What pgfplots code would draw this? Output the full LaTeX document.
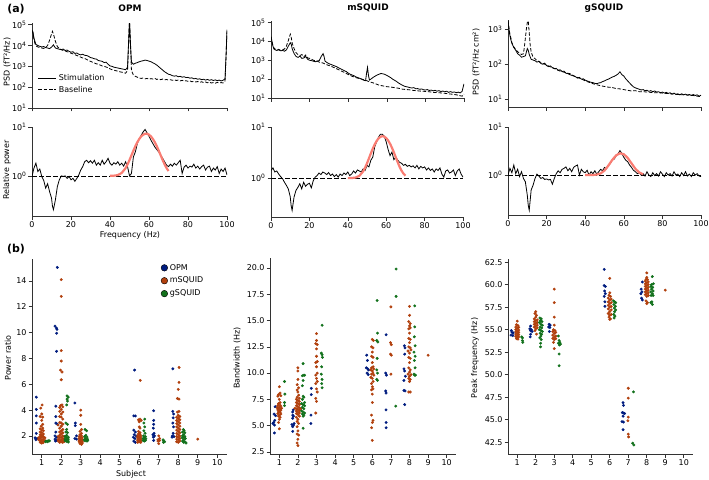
\documentclass[border=0pt]{standalone}
\usepackage{pgfplots}
\pgfplotsset{compat=1.18}
\usepackage{fontspec}
\setmainfont{DejaVu Sans}

\definecolor{cB}{HTML}{001C7F}
\definecolor{cO}{HTML}{B1400D}
\definecolor{cG}{HTML}{12711C}
\definecolor{fitred}{RGB}{250,125,115}

\newcommand{\tk}{\fontsize{8}{9.6}\selectfont}
\newcommand{\dec}[1]{10\textsuperscript{#1}}

% spectra are stored as log10 values, axes labelled in decades
\pgfplotsset{
  panel/.style={scale only axis, anchor=north west, axis lines*=left,
    axis line style={-, line width=0.6bp, black!80},
    tick align=outside, major tick length=3.5bp,
    tick style={black!80, line width=0.6bp},
    tick label style={font=\tk, inner sep=1.8bp}, minor tick num=0, scaled ticks=false,
    /pgf/number format/assume math mode=true},
  freq/.style={panel, xmin=0, xmax=100, xtick={0,20,...,100}},
  nox/.style={xticklabels={,,,,,}},
  rel/.style={freq, ymax=1, ytick={0,1}, yticklabels={\dec{0},\dec{1}}},
  swarm/.style={panel, xmin=0.5, xmax=10.5, xtick={1,...,10}, clip=false},
  stim/.style={black, line width=0.8bp},
  base/.style={black, line width=0.8bp, dash pattern=on 3.5bp off 1.8bp},
  one/.style={black, line width=0.8bp, dash pattern=on 4.5bp off 2.5bp},
  fit/.style={fitred, line width=2.2bp},
  dots/.style={only marks, mark=*, mark size=1.25bp, forget plot},
}

\begin{document}
\begin{tikzpicture}
\path[use as bounding box] (0,0) rectangle (709bp,-480bp);

% ---------------- (a) top row: PSD ----------------
\begin{axis}[freq, nox, at={(32bp,-23bp)}, width=195bp, height=85bp,
  ymin=1, ymax=5.08, ytick={1,...,5},
  yticklabels={\dec{1},\dec{2},\dec{3},\dec{4},\dec{5}},
  legend style={at={(0.03,0.42)}, anchor=north west, draw=none, fill=none,
    font=\tk, row sep=0bp, inner sep=0pt},
  legend cell align=left,
  legend image code/.code={\draw[#1] (0bp,0bp) -- (18bp,0bp);}]
\addplot[stim] coordinates {(0,4.73)(0.5,4.65)(1,4.35)(1.5,4.2)(2,4.05)(3,4.0)(4,3.96)(5,3.93)(6,3.95)(7,3.9)(8,3.88)(9,3.85)(10,3.92)(11,4.03)(12,3.88)(13,3.85)(14,3.82)(15,3.8)(16,3.83)(17,3.76)(18,3.78)(19,3.72)(20,3.68)(21,3.7)(22,3.62)(23,3.64)(24,3.58)(25,3.55)(26,3.58)(27,3.53)(28,3.52)(29,3.48)(30,3.42)(31,3.4)(32,3.36)(33,3.35)(34,3.28)(35,3.26)(36,3.24)(37,3.18)(38,3.2)(39,3.1)(40,3.02)(41,3.0)(42,2.96)(43,2.94)(44,2.92)(45,2.9)(46,2.88)(47,2.86)(48,2.84)(49,2.95)(49.5,4.1)(50,5.24)(50.5,4.1)(51,3.2)(52,3.1)(53,3.15)(54,3.18)(55,3.22)(56,3.25)(57,3.27)(58,3.3)(59,3.28)(60,3.25)(61,3.22)(62,3.17)(63,3.12)(64,3.06)(65,2.98)(66,2.9)(67,2.82)(68,2.74)(69,2.68)(70,2.62)(71,2.6)(72,2.55)(73,2.53)(74,2.55)(75,2.5)(76,2.52)(77,2.48)(78,2.5)(79,2.46)(80,2.47)(81,2.43)(82,2.45)(83,2.4)(84,2.42)(85,2.38)(86,2.4)(87,2.36)(88,2.38)(89,2.34)(90,2.37)(91,2.33)(92,2.36)(93,2.32)(94,2.35)(95,2.31)(96,2.34)(97,2.3)(98,2.33)(99,2.4)(99.5,3.5)(100,4.76)};
\addlegendentry{Stimulation}
\addplot[base] coordinates {(0,4.7)(0.5,4.6)(1,4.3)(1.5,4.1)(2,3.98)(3,3.93)(4,3.9)(5,3.88)(6,3.86)(7,3.9)(8,4.0)(9,4.25)(10,4.55)(10.5,4.68)(11,4.55)(12,4.2)(13,3.95)(14,3.85)(15,3.8)(16,3.76)(17,3.74)(18,3.7)(19,3.68)(20,3.63)(21,3.6)(22,3.56)(23,3.52)(24,3.48)(25,3.44)(26,3.4)(27,3.38)(28,3.33)(29,3.28)(30,3.24)(31,3.2)(32,3.16)(33,3.12)(34,3.1)(35,3.06)(36,3.02)(37,3.0)(38,2.97)(39,2.93)(40,2.88)(41,2.84)(42,2.82)(43,2.79)(44,2.77)(45,2.74)(46,2.72)(47,2.7)(48,2.67)(49,2.8)(49.5,4.0)(50,5.2)(50.5,4.0)(51,2.8)(52,2.58)(53,2.52)(54,2.48)(55,2.44)(56,2.42)(57,2.44)(58,2.4)(59,2.42)(60,2.38)(61,2.41)(62,2.39)(63,2.42)(64,2.37)(65,2.4)(66,2.36)(67,2.39)(68,2.35)(69,2.37)(70,2.34)(71,2.36)(72,2.33)(73,2.35)(74,2.32)(75,2.34)(76,2.3)(77,2.33)(78,2.29)(79,2.31)(80,2.28)(81,2.3)(82,2.26)(83,2.28)(84,2.25)(85,2.27)(86,2.23)(87,2.26)(88,2.22)(89,2.25)(90,2.21)(91,2.24)(92,2.2)(93,2.22)(94,2.19)(95,2.23)(96,2.2)(97,2.22)(98,2.2)(99,2.3)(99.5,3.4)(100,4.7)};
\addlegendentry{Baseline}
\end{axis}

\begin{axis}[freq, nox, at={(271bp,-21bp)}, width=193bp, height=77bp,
  ymin=1, ymax=5.08, ytick={1,...,5},
  yticklabels={\dec{1},\dec{2},\dec{3},\dec{4},\dec{5}}]
\addplot[stim] coordinates {(0,4.25)(0.5,4.0)(1,3.75)(1.5,3.6)(2,3.56)(3,3.52)(4,3.55)(5,3.5)(6,3.52)(7,3.48)(8,3.55)(9,3.75)(10,3.93)(10.5,3.85)(11,3.6)(12,3.35)(13,3.2)(14,3.15)(15,3.22)(16,3.1)(17,3.12)(18,3.2)(19,3.05)(20,3.0)(21,2.98)(22,2.95)(23,2.92)(24,2.96)(25,2.98)(26,3.2)(27,3.35)(27.5,3.2)(28,2.95)(29,2.88)(30,2.82)(31,2.78)(32,2.74)(33,2.7)(34,2.66)(35,2.6)(36,2.55)(37,2.5)(38,2.45)(39,2.4)(40,2.32)(41,2.26)(42,2.22)(43,2.18)(44,2.12)(45,2.08)(46,2.04)(47,2.0)(48,1.94)(49,1.92)(49.5,2.3)(50,2.62)(50.5,2.2)(51,1.95)(52,2.02)(53,2.1)(54,2.16)(55,2.22)(56,2.26)(57,2.3)(58,2.28)(59,2.25)(60,2.2)(61,2.14)(62,2.08)(63,2.0)(64,1.94)(65,1.88)(66,1.8)(67,1.74)(68,1.68)(69,1.63)(70,1.6)(71,1.58)(72,1.55)(73,1.53)(74,1.55)(75,1.49)(76,1.5)(77,1.46)(78,1.48)(79,1.44)(80,1.42)(81,1.45)(82,1.4)(83,1.42)(84,1.38)(85,1.41)(86,1.36)(87,1.39)(88,1.34)(89,1.37)(90,1.33)(91,1.36)(92,1.3)(93,1.34)(94,1.3)(95,1.32)(96,1.28)(97,1.31)(98,1.27)(99,1.35)(100,1.75)};
\addplot[base] coordinates {(0,4.25)(0.5,4.0)(1,3.75)(1.5,3.66)(2,3.6)(3,3.55)(4,3.58)(5,3.52)(6,3.55)(7,3.6)(8,3.75)(9,4.05)(10,4.38)(10.5,4.2)(11,3.9)(12,3.6)(13,3.4)(14,3.3)(15,3.25)(16,3.3)(17,3.18)(18,3.28)(19,3.12)(20,3.1)(21,3.05)(22,3.0)(23,2.97)(24,2.95)(25,2.9)(26,2.88)(27,2.85)(28,2.8)(29,2.76)(30,2.72)(31,2.69)(32,2.64)(33,2.6)(34,2.55)(35,2.5)(36,2.45)(37,2.4)(38,2.36)(39,2.3)(40,2.25)(41,2.2)(42,2.15)(43,2.12)(44,2.08)(45,2.05)(46,2.03)(47,2.0)(48,1.97)(49,1.94)(50,1.9)(51,1.86)(52,1.83)(53,1.8)(54,1.76)(55,1.72)(56,1.68)(57,1.66)(58,1.64)(59,1.62)(60,1.6)(62,1.58)(64,1.55)(66,1.52)(68,1.47)(70,1.45)(72,1.43)(74,1.4)(76,1.38)(78,1.36)(80,1.35)(82,1.33)(84,1.3)(86,1.29)(88,1.27)(90,1.25)(92,1.22)(94,1.2)(96,1.17)(98,1.12)(99,1.1)(100,1.2)};
\end{axis}

\begin{axis}[freq, nox, at={(508bp,-20bp)}, width=193bp, height=87bp,
  ymin=0.77, ymax=3.27, ytick={1,2,3},
  yticklabels={\dec{1},\dec{2},\dec{3}}]
\addplot[stim] coordinates {(0,3.22)(0.5,3.0)(1,2.82)(1.5,2.7)(2,2.6)(3,2.48)(4,2.4)(5,2.3)(6,2.26)(7,2.2)(8,2.22)(9,2.24)(10,2.45)(10.5,2.4)(11,2.28)(12,2.14)(13,2.12)(14,2.1)(15,2.06)(16,2.08)(17,2.02)(18,2.0)(19,2.03)(20,1.96)(21,1.93)(22,1.95)(23,1.9)(24,1.87)(25,1.88)(26,1.82)(27,1.84)(28,1.79)(29,1.8)(30,1.74)(31,1.73)(32,1.7)(33,1.68)(34,1.66)(35,1.64)(36,1.6)(37,1.62)(38,1.57)(39,1.58)(40,1.54)(41,1.52)(42,1.5)(43,1.48)(44,1.47)(45,1.45)(46,1.44)(47,1.46)(48,1.47)(49,1.5)(50,1.52)(51,1.55)(52,1.57)(53,1.6)(54,1.63)(55,1.65)(56,1.68)(57,1.72)(58,1.78)(59,1.7)(60,1.66)(61,1.58)(62,1.52)(63,1.46)(64,1.4)(65,1.35)(66,1.32)(67,1.3)(68,1.28)(69,1.26)(70,1.27)(71,1.24)(72,1.25)(73,1.22)(74,1.24)(75,1.21)(76,1.23)(77,1.2)(78,1.21)(79,1.18)(80,1.2)(81,1.17)(82,1.19)(83,1.16)(84,1.18)(85,1.14)(86,1.17)(87,1.13)(88,1.15)(89,1.12)(90,1.15)(91,1.12)(92,1.14)(93,1.11)(94,1.13)(95,1.1)(96,1.13)(97,1.1)(98,1.12)(99,1.08)(100,1.11)};
\addplot[base] coordinates {(0,3.26)(0.5,3.05)(1,2.85)(1.5,2.75)(2,2.62)(3,2.5)(4,2.42)(5,2.36)(6,2.31)(7,2.28)(8,2.3)(8.5,2.5)(9,2.75)(9.5,3.0)(10,3.2)(10.5,3.24)(11,2.9)(11.5,2.55)(12,2.35)(13,2.2)(14,2.16)(15,2.1)(16,2.08)(17,2.05)(18,2.02)(19,2.0)(20,1.97)(21,1.95)(22,1.92)(23,1.9)(24,1.88)(25,1.85)(26,1.83)(27,1.8)(28,1.79)(29,1.77)(30,1.76)(31,1.74)(32,1.73)(33,1.7)(34,1.67)(35,1.64)(36,1.62)(37,1.6)(38,1.58)(39,1.55)(40,1.52)(42,1.48)(44,1.44)(46,1.41)(48,1.38)(50,1.36)(52,1.34)(54,1.33)(56,1.3)(58,1.29)(60,1.27)(62,1.25)(64,1.23)(66,1.24)(68,1.21)(70,1.21)(72,1.2)(74,1.19)(76,1.18)(78,1.18)(80,1.17)(82,1.16)(84,1.15)(86,1.14)(88,1.13)(90,1.12)(92,1.12)(94,1.11)(96,1.1)(98,1.08)(100,1.07)};
\end{axis}

% ---------------- (a) middle row: relative power ----------------
\begin{axis}[rel, at={(32bp,-127bp)}, width=195bp, height=89bp, ymin=-0.82]
\addplot[stim] coordinates {(0,-0.01)(1,0.16)(2,0.26)(3,0.09)(4,0.14)(5,-0.01)(6,-0.09)(7,-0.25)(8,-0.16)(9,-0.32)(10,-0.45)(10.5,-0.62)(11,-0.69)(11.5,-0.59)(12,-0.49)(13,-0.22)(14,-0.08)(15,0)(16,-0.01)(17,0)(18,-0.05)(19,-0.01)(20,-0.08)(21,-0.05)(22,-0.11)(23,-0.05)(24,0.02)(25,0.12)(26,0.19)(27,0.29)(28,0.32)(29,0.27)(30,0.31)(31,0.26)(32,0.32)(33,0.22)(34,0.27)(35,0.22)(36,0.32)(37,0.24)(38,0.29)(39,0.36)(40,0.26)(41,0.22)(42,0.27)(43,0.24)(44,0.29)(45,0.22)(46,0.26)(47,0.2)(48,0.29)(49,0.19)(50,0)(51,0.05)(52,0.39)(53,0.49)(54,0.66)(55,0.76)(56,0.83)(57,0.9)(58,0.95)(59,0.88)(60,0.81)(61,0.73)(62,0.66)(63,0.59)(64,0.54)(65,0.49)(66,0.43)(67,0.36)(68,0.29)(69,0.22)(70,0.19)(71,0.24)(72,0.2)(73,0.26)(74,0.22)(75,0.27)(76,0.32)(77,0.05)(78,0.18)(79,0.22)(80,0.16)(81,0.2)(82,0.18)(83,0.24)(84,0.16)(85,0.2)(86,0.14)(87,0.19)(88,0.22)(89,0.12)(90,0.18)(91,0.2)(92,0.09)(93,0.16)(94,0.12)(95,0.19)(96,0.05)(97,0.14)(98,0.09)(99,0.16)(100,0.02)};
\addplot[one] coordinates {(0,0)(100,0)};
\addplot[fit] coordinates {(40,0.001)(42,0.004)(44,0.017)(46,0.06)(48,0.16)(49,0.236)(50,0.324)(51,0.42)(52,0.516)(53,0.607)(54,0.688)(55,0.755)(56,0.808)(57,0.843)(58,0.861)(59,0.861)(60,0.843)(61,0.808)(62,0.755)(63,0.688)(64,0.607)(65,0.516)(66,0.42)(67,0.324)(68,0.236)(69,0.16)(70,0.1)};
\end{axis}

\begin{axis}[rel, at={(271bp,-127bp)}, width=192bp, height=90bp, ymin=-0.76]
\addplot[stim] coordinates {(0,0.15)(1,0.2)(2,0.12)(3,0.14)(4,0.08)(5,0.03)(6,-0.01)(7,-0.08)(8,-0.14)(9,-0.21)(10,-0.36)(10.5,-0.54)(11,-0.63)(11.5,-0.5)(12,-0.37)(13,-0.24)(14,-0.18)(15,-0.11)(16,-0.21)(17,-0.08)(18,-0.16)(19,-0.12)(20,-0.1)(21,-0.19)(22,-0.05)(23,0.02)(24,0.05)(25,0.1)(26,0.07)(27,0.12)(28,0.1)(29,0.07)(30,0.11)(31,0.05)(32,0.08)(33,0.03)(34,0.07)(35,0.02)(36,0.08)(37,0.05)(38,0.1)(39,0.07)(40,0.12)(41,0.05)(42,0.08)(43,0.14)(44,0.1)(45,0.16)(46,0.14)(47,0.12)(48,0.18)(49,0.15)(50,0.25)(51,0.22)(52,0.35)(53,0.41)(54,0.61)(55,0.71)(56,0.8)(57,0.86)(58,0.86)(59,0.82)(60,0.71)(61,0.56)(62,0.44)(63,0.51)(64,0.36)(65,0.41)(66,0.35)(67,0.31)(68,0.29)(69,0.25)(70,0.27)(71,0.23)(72,0.25)(73,0.22)(74,0.24)(75,0.2)(76,0.25)(77,0.18)(78,0.23)(79,0.2)(80,0.22)(81,0.16)(82,0.2)(83,0.15)(84,0.18)(85,0.12)(86,0.18)(87,0.15)(88,0.2)(89,0.08)(90,0.02)(91,0.14)(92,0.16)(93,0.1)(94,0.12)(95,0.16)(96,0.05)(97,0.14)(98,0.18)(99,0.08)(100,0.02)};
\addplot[one] coordinates {(0,0)(100,0)};
\addplot[fit] coordinates {(40,0)(42,0.002)(44,0.011)(46,0.044)(48,0.132)(49,0.204)(50,0.29)(51,0.386)(52,0.484)(53,0.576)(54,0.659)(55,0.726)(56,0.776)(57,0.808)(58,0.82)(59,0.812)(60,0.784)(61,0.737)(62,0.673)(63,0.594)(64,0.504)(65,0.406)(66,0.31)(67,0.22)(68,0.146)(69,0.088)(70,0.049)};
\end{axis}

\begin{axis}[rel, at={(508bp,-127bp)}, width=193bp, height=88bp, ymin=-0.83]
\addplot[stim] coordinates {(0,0)(1,0.14)(2,0.05)(3,0.21)(4,0.03)(5,0.12)(6,-0.03)(7,0.07)(8,-0.07)(9,-0.14)(10,-0.42)(10.5,-0.63)(11,-0.73)(11.5,-0.52)(12,-0.31)(13,-0.21)(14,-0.07)(15,0.02)(16,-0.02)(17,-0.07)(18,-0.05)(19,-0.09)(20,-0.08)(21,-0.1)(22,-0.09)(23,-0.19)(24,-0.07)(25,0.03)(26,0.09)(27,0.05)(28,0.12)(29,0.14)(30,0.17)(31,0.09)(32,0.14)(33,0.07)(34,0.16)(35,0.19)(36,0.21)(37,0)(38,0.12)(39,0.07)(40,0.05)(41,0.1)(42,0)(43,0.07)(44,0.03)(45,0.09)(46,0.02)(47,0.07)(48,0.12)(49,0.09)(50,0.16)(51,0.13)(52,0.21)(53,0.24)(54,0.31)(55,0.33)(56,0.4)(57,0.44)(58,0.51)(59,0.45)(60,0.37)(61,0.31)(62,0.28)(63,0.21)(64,0.16)(65,0.1)(66,0.07)(67,0.03)(68,0.05)(69,0)(70,0.03)(71,-0.02)(72,0.07)(73,0)(74,-0.03)(75,0.05)(76,-0.01)(77,0.03)(78,-0.02)(79,0.07)(80,0.02)(81,-0.03)(82,0.05)(83,0)(84,0.03)(85,-0.02)(86,0.07)(87,0)(88,0.02)(89,-0.03)(90,0.05)(91,-0.01)(92,0.07)(93,-0.02)(94,0.02)(95,-0.03)(96,0.05)(97,0)(98,0.03)(99,-0.02)(100,-0.03)};
\addplot[one] coordinates {(0,0)(100,0)};
\addplot[fit] coordinates {(40,0)(42,0.0004)(44,0.002)(46,0.01)(48,0.035)(50,0.0955)(52,0.197)(54,0.315)(56,0.41)(58,0.453)(60,0.435)(62,0.358)(64,0.244)(66,0.132)(68,0.054)(70,0.017)};
\end{axis}

% ---------------- (b) swarm plots ----------------
\begin{axis}[swarm, at={(32bp,-259bp)}, width=195bp, height=195bp,
  ymin=0.6, ymax=15.7, ytick={2,4,...,14},
  legend style={at={(0.66,0.985)}, anchor=north west, draw=none, fill=none,
    font=\tk, row sep=1.5bp, inner sep=0pt},
  legend cell align=left,
  legend image code/.code={\fill[#1] (5bp,0bp) circle (3.3bp);}]
\addlegendimage{fill=cB}\addlegendentry{OPM}
\addlegendimage{fill=cO}\addlegendentry{mSQUID}
\addlegendimage{fill=cG}\addlegendentry{gSQUID}
\addplot[dots, cB] coordinates {(0.72,5.0)(0.72,4.05)(0.72,3.55)(0.72,3.0)(0.72,2.2)(0.66,1.85)(0.76,1.8)(0.70,1.7)
(1.80,15.05)(1.68,10.5)(1.75,10.35)(1.78,10.25)(1.76,9.95)(1.76,8.55)(1.72,4.3)(1.72,3.5)(1.72,3.0)(1.80,2.9)(1.72,2.3)(1.68,2.0)(1.76,1.9)(1.68,1.75)(1.76,1.65)(1.70,1.6)
(2.70,4.55)(2.72,3.0)(2.72,2.8)(2.78,2.0)(2.70,1.8)(2.78,1.75)
(5.76,7.1)(5.72,3.55)(5.80,3.55)(5.72,2.45)(5.80,2.3)(5.74,2.1)(5.84,2.0)(5.70,1.9)(5.78,1.8)(5.72,1.6)(5.80,1.5)
(6.74,3.95)(6.74,3.2)(6.74,2.9)(6.72,2.6)(6.76,2.2)(6.70,2.1)(6.78,2.0)(6.72,1.9)(6.74,1.65)
(7.72,7.2)(7.72,3.9)(7.76,3.7)(7.74,3.4)(7.72,3.0)(7.76,2.7)(7.70,2.0)(7.78,1.95)(7.74,2.2)(7.68,1.9)};
\addplot[dots, cO] coordinates {(1.02,4.4)(0.95,4.15)(1.0,3.7)(0.92,3.5)(1.05,3.45)(1.0,3.2)(1.05,2.9)(0.97,2.75)(1.05,2.6)(0.92,2.55)(1.0,2.45)(1.08,2.4)(0.92,2.3)(1.0,2.25)(1.08,2.15)(0.92,2.1)(1.0,2.05)(0.92,1.95)(1.08,1.95)(1.0,1.9)(0.84,1.85)(1.16,1.85)(0.92,1.8)(1.08,1.75)(1.0,1.7)(0.84,1.7)(1.16,1.65)(0.92,1.62)(1.08,1.6)(1.0,1.55)(0.92,1.5)(1.08,1.48)(1.0,1.45)
(2.0,14.1)(2.0,12.8)(2.0,8.6)(2.0,7.8)(1.96,7.1)(2.04,6.95)(2.0,6.35)(2.04,4.4)(1.96,4.35)(2.08,4.25)(1.92,4.2)(2.0,4.05)(1.92,3.9)(2.08,3.85)(2.0,3.7)(1.92,3.5)(2.0,3.45)(2.08,3.3)(1.92,3.05)(2.0,3.0)(2.08,2.9)(1.84,2.85)(2.0,2.75)(1.92,2.6)(2.08,2.5)(2.0,2.4)(1.92,2.3)(2.08,2.25)(2.0,2.15)(1.92,2.05)(2.08,2.0)(1.84,1.95)(2.16,1.95)(2.0,1.9)(1.92,1.85)(2.08,1.8)(1.84,1.75)(2.16,1.75)(2.0,1.7)(1.92,1.65)(2.08,1.62)(1.84,1.6)(2.16,1.58)(2.0,1.55)(1.92,1.5)(2.08,1.5)
(3.0,4.0)(3.0,3.6)(3.0,2.9)(3.04,2.5)(2.96,2.35)(3.04,2.2)(2.96,2.1)(3.04,2.0)(2.92,1.95)(3.0,1.9)(3.08,1.85)(2.92,1.8)(3.0,1.75)(3.08,1.7)(2.92,1.65)(3.0,1.62)(3.08,1.58)(2.92,1.55)(3.0,1.5)(3.08,1.45)(2.96,1.4)(3.04,1.35)
(6.05,6.3)(6.04,3.3)(5.96,3.25)(6.1,3.2)(6.0,3.1)(6.0,2.7)(6.04,2.6)(5.96,2.35)(6.04,2.25)(5.96,2.15)(6.04,2.1)(5.92,2.0)(6.08,2.0)(6.0,1.95)(5.92,1.9)(6.08,1.85)(6.0,1.8)(5.92,1.75)(6.08,1.72)(6.0,1.68)(5.92,1.62)(6.08,1.6)(6.0,1.55)(5.92,1.5)(6.08,1.5)
(7.0,2.0)(7.04,1.8)(6.96,1.7)(7.04,1.65)(6.96,1.6)(7.0,1.4)
(8.04,7.3)(8.04,6.15)(8.0,5.6)(7.96,4.9)(8.04,4.85)(8.04,3.9)(7.96,3.85)(8.0,3.6)(8.08,3.5)(7.92,3.45)(8.0,3.35)(8.08,3.25)(7.92,3.2)(8.0,3.1)(8.08,3.0)(7.92,2.95)(8.0,2.85)(8.08,2.75)(7.92,2.7)(8.0,2.6)(8.08,2.5)(7.92,2.45)(8.0,2.35)(8.08,2.25)(7.92,2.2)(8.0,2.1)(8.08,2.0)(7.92,1.95)(8.0,1.9)(8.08,1.8)(7.92,1.75)(8.0,1.7)(8.08,1.6)(7.92,1.55)(8.0,1.5)
(9.0,1.75)};
\addplot[dots, cG] coordinates {(1.22,1.6)(1.28,1.6)(1.34,1.62)(1.40,1.62)(1.20,1.55)(1.30,1.55)
(2.30,5.1)(2.36,5.0)(2.30,4.85)(2.32,4.7)(2.28,4.4)(2.24,3.0)(2.32,2.9)(2.28,2.5)(2.24,2.3)(2.32,2.25)(2.28,2.05)(2.20,1.95)(2.36,1.9)(2.28,1.85)(2.20,1.75)(2.36,1.75)(2.28,1.7)(2.20,1.62)(2.36,1.6)(2.28,1.58)(2.36,1.52)
(3.22,2.5)(3.30,2.4)(3.26,2.05)(3.20,1.95)(3.32,1.9)(3.24,1.8)(3.34,1.75)(3.18,1.7)(3.28,1.68)(3.22,1.62)(3.32,1.6)(3.36,1.65)
(6.28,3.3)(6.24,3.0)(6.28,2.7)(6.24,2.4)(6.30,2.2)(6.22,2.0)(6.32,1.95)(6.26,1.85)(6.20,1.8)(6.34,1.78)(6.26,1.72)(6.20,1.65)(6.32,1.65)(6.26,1.6)
(7.22,1.7)(7.26,1.6)(7.30,1.55)(7.24,1.5)
(8.26,2.5)(8.30,2.4)(8.22,2.3)(8.34,2.25)(8.28,2.1)(8.22,2.0)(8.34,1.95)(8.28,1.9)(8.20,1.85)(8.36,1.8)(8.28,1.7)(8.22,1.6)(8.34,1.55)(8.28,1.5)(8.40,1.45)};
\end{axis}

\begin{axis}[swarm, at={(270bp,-258bp)}, width=186bp, height=196bp,
  ymin=2.3, ymax=20.95, ytick={2.5,5,...,20},
  yticklabel style={/pgf/number format/.cd, fixed, fixed zerofill, precision=1}]
\addplot[dots, cB] coordinates {(0.78,6.8)(0.72,6.1)(0.80,5.95)(0.76,5.5)(0.70,5.3)(0.66,5.2)(0.74,5.05)(0.74,4.3)
(1.75,6.5)(1.72,6.3)(1.72,6.0)(1.76,5.9)(1.72,5.7)(1.68,5.1)(1.76,5.05)(1.80,5.2)(1.72,4.9)(1.72,4.45)
(2.72,8.55)(2.72,7.95)(2.70,6.0)(2.70,5.2)
(5.70,11.7)(5.74,11.2)(5.68,10.5)(5.76,10.4)(5.80,10.3)(5.72,10.0)(5.78,9.85)
(6.74,13.65)(6.72,10.0)(6.76,9.8)(6.72,8.3)(6.74,8.1)(6.74,6.5)(6.74,5.3)(6.74,4.8)
(7.72,12.6)(7.76,12.4)(7.74,11.8)(7.70,10.4)(7.74,10.2)(7.78,9.7)(7.70,9.3)(7.76,8.3)(7.70,8.35)(7.74,7.0)};
\addplot[dots, cO] coordinates {(1.0,8.7)(1.04,8.1)(0.96,7.95)(1.08,7.85)(0.92,7.8)(1.0,7.5)(1.04,7.2)(0.96,7.1)(1.04,6.95)(0.92,6.9)(1.08,6.85)(1.0,6.75)(0.88,6.7)(1.12,6.65)(0.96,6.6)(1.04,6.55)(0.92,6.5)(1.08,6.45)(1.0,6.4)(0.96,6.3)(1.04,6.25)(0.92,6.15)(1.08,6.1)(1.0,6.0)(0.96,5.9)(1.04,5.8)(1.0,5.6)(0.96,5.3)(1.0,4.7)
(2.0,10.5)(2.0,10.2)(2.0,9.4)(1.96,8.9)(2.04,8.6)(1.96,8.4)(2.0,8.2)(2.04,7.9)(1.96,7.7)(2.08,7.6)(1.92,7.5)(2.0,7.4)(2.08,7.3)(1.92,7.2)(2.0,7.1)(2.08,7.0)(1.92,6.9)(2.0,6.8)(2.08,6.7)(1.84,6.65)(1.92,6.6)(2.16,6.6)(2.0,6.55)(2.08,6.45)(1.92,6.4)(2.0,6.3)(2.08,6.2)(1.92,6.15)(2.0,6.05)(2.08,5.9)(1.92,5.8)(2.0,5.6)(1.96,5.4)(2.04,5.2)(1.96,4.9)(2.0,4.5)(1.96,4.2)(2.04,4.1)(2.0,3.7)(1.96,3.35)(2.0,3.1)
(3.0,13.75)(3.0,13.1)(2.96,12.8)(3.04,12.7)(3.0,12.3)(3.0,11.6)(3.04,11.1)(2.96,11.0)(3.0,10.6)(3.04,10.0)(2.96,9.8)(3.0,9.5)(3.04,9.2)(2.96,9.0)(3.0,8.5)(3.04,8.2)(2.96,7.6)(3.0,7.3)(2.96,6.2)
(6.0,13.2)(6.06,13.1)(5.96,12.5)(6.04,12.4)(6.0,12.0)(5.96,11.6)(6.04,11.5)(6.0,11.0)(6.04,10.6)(5.96,10.5)(6.08,10.4)(5.92,10.3)(6.0,10.2)(6.04,10.0)(5.96,9.9)(6.08,9.8)(5.92,9.6)(6.0,9.5)(6.04,9.2)(5.96,9.0)(6.0,8.7)(6.04,8.5)(5.96,8.4)(6.0,8.0)(6.0,7.2)(5.96,6.0)(6.04,5.5)(6.0,5.3)(5.96,4.8)(6.0,3.6)
(7.0,16.3)(6.98,12.9)(7.02,12.7)(6.98,11.8)(7.02,11.7)(7.0,9.9)
(8.0,16.35)(8.0,15.5)(7.96,14.9)(8.04,14.7)(8.0,14.5)(7.96,14.2)(8.04,14.3)(8.0,13.8)(7.96,13.3)(8.04,13.2)(8.0,12.9)(7.96,12.5)(8.04,12.4)(8.08,12.2)(7.92,12.1)(8.0,11.9)(7.96,11.5)(8.04,11.4)(8.0,11.0)(7.96,10.5)(8.04,10.3)(8.0,10.1)(7.92,9.9)(8.08,9.85)(8.0,9.7)(7.96,9.5)(8.04,9.4)(8.0,9.2)(7.96,8.2)(8.04,8.2)
(9.0,11.7)};
\addplot[dots, cG] coordinates {(1.28,9.2)(1.30,8.0)(1.28,7.2)(1.28,6.9)
(2.28,10.9)(2.24,9.75)(2.32,9.8)(2.36,9.8)(2.28,9.3)(2.24,8.8)(2.28,7.8)(2.32,7.7)(2.24,7.5)(2.36,7.2)(2.20,7.1)(2.28,7.0)(2.36,6.9)(2.24,6.75)(2.32,6.6)(2.20,6.4)(2.28,6.3)(2.36,6.2)(2.24,6.1)(2.32,6.0)(2.28,5.9)(2.28,4.75)
(3.30,14.55)(3.26,11.9)(3.30,11.75)(3.32,11.5)(3.28,10.6)(3.26,9.9)(3.30,9.4)(3.28,9.0)(3.30,8.6)
(6.26,16.9)(6.28,13.8)(6.24,13.1)(6.30,12.95)(6.26,11.4)(6.24,10.3)(6.28,10.0)(6.24,9.4)(6.28,9.3)
(7.28,19.9)(7.28,17.3)(7.26,6.85)
(8.28,16.4)(8.28,14.4)(8.26,13.45)(8.30,12.6)(8.24,12.0)(8.30,11.6)(8.26,11.2)(8.30,10.5)(8.24,9.9)(8.28,9.8)(8.32,9.8)};
\end{axis}

\begin{axis}[swarm, at={(508bp,-259bp)}, width=185bp, height=195bp,
  ymin=41.2, ymax=62.85, ytick={42.5,45,...,62.5},
  yticklabel style={/pgf/number format/.cd, fixed, fixed zerofill, precision=1}]
\addplot[dots, cB] coordinates {(0.68,54.9)(0.72,54.7)(0.78,54.65)(0.66,54.4)(0.76,54.35)
(1.72,55.4)(1.68,55.1)(1.76,55.0)(1.72,54.9)(1.80,54.8)(1.72,54.5)(1.70,54.2)
(2.72,55.6)(2.78,55.5)(2.70,55.3)(2.76,55.25)(2.74,54.8)
(5.70,61.7)(5.70,59.9)(5.76,59.8)(5.72,59.3)(5.76,59.0)(5.70,58.7)(5.74,58.1)(5.74,57.6)
(6.72,46.9)(6.74,46.6)(6.68,45.8)(6.74,45.75)(6.80,45.7)(6.72,45.4)(6.66,44.8)(6.74,44.75)(6.72,43.9)
(7.76,60.3)(7.70,59.5)(7.74,59.2)(7.68,59.0)(7.72,58.5)(7.76,58.3)};
\addplot[dots, cO] coordinates {(1.0,55.95)(0.96,55.55)(1.04,55.45)(0.92,55.3)(1.08,55.25)(1.0,55.15)(0.92,55.0)(1.08,54.95)(1.0,54.85)(0.92,54.75)(1.08,54.7)(1.0,54.6)(0.92,54.5)(1.08,54.45)(1.0,54.35)(0.92,54.25)(1.08,54.2)(1.0,54.1)(0.96,54.0)(1.04,53.95)
(2.0,57.0)(1.96,56.8)(2.04,56.6)(2.0,56.4)(1.92,56.2)(2.08,56.1)(2.0,56.0)(1.92,55.9)(2.08,55.8)(2.0,55.7)(1.92,55.6)(2.08,55.5)(2.0,55.4)(1.92,55.3)(2.08,55.2)(2.0,55.1)(1.96,54.9)(2.04,54.5)
(3.0,59.5)(3.0,58.0)(3.0,56.4)(3.0,55.5)(2.96,55.0)(3.04,54.9)(2.92,54.8)(3.08,54.7)(3.0,54.6)(2.92,54.4)(3.08,54.3)(3.0,54.2)(2.92,54.05)(3.08,54.0)(3.0,53.9)(2.96,53.6)(3.0,52.9)
(6.0,60.7)(6.0,59.1)(5.96,58.8)(6.04,58.7)(5.92,58.5)(6.08,58.4)(6.0,58.3)(5.92,58.1)(6.08,58.0)(6.0,57.9)(5.92,57.7)(6.08,57.6)(6.0,57.5)(5.92,57.3)(6.08,57.2)(6.0,57.0)(5.92,56.8)(6.08,56.7)(6.0,56.6)(5.96,56.4)(6.04,56.2)(6.0,56.15)
(7.0,48.5)(7.0,47.4)(7.0,45.3)(6.98,44.9)(7.0,43.4)(7.02,43.1)
(8.0,61.3)(8.0,60.8)(7.96,60.6)(8.04,60.55)(7.92,60.4)(8.08,60.3)(8.0,60.2)(7.92,60.1)(8.08,60.0)(8.0,59.9)(7.92,59.8)(8.08,59.7)(8.0,59.6)(7.92,59.5)(8.08,59.4)(8.0,59.3)(7.92,59.2)(8.08,59.1)(8.0,59.0)(7.92,58.9)(8.08,58.8)(8.0,58.7)(7.96,58.2)(8.04,58.0)(8.0,57.9)
(9.0,59.4)};
\addplot[dots, cG] coordinates {(1.24,54.2)(1.28,54.1)(1.28,53.8)(1.30,53.6)
(2.22,56.3)(2.30,56.2)(2.26,56.0)(2.34,55.9)(2.20,55.8)(2.28,55.6)(2.36,55.5)(2.24,55.3)(2.32,55.2)(2.20,55.0)(2.28,54.9)(2.36,54.8)(2.24,54.6)(2.32,54.5)(2.28,54.3)(2.22,54.1)(2.30,53.9)(2.26,53.5)(2.26,53.1)
(3.22,54.3)(3.26,53.8)(3.30,53.6)(3.22,53.5)(3.34,53.4)(3.28,53.3)(3.26,52.3)(3.26,51.0)
(6.20,58.2)(6.26,58.1)(6.32,58.0)(6.22,57.8)(6.30,57.6)(6.24,57.4)(6.32,57.2)(6.26,57.0)(6.22,56.7)(6.28,56.5)(6.24,56.3)
(7.28,48.1)(7.24,42.4)(7.30,42.2)
(8.30,60.9)(8.36,60.1)(8.26,60.0)(8.22,59.8)(8.32,59.7)(8.26,59.5)(8.34,59.3)(8.22,59.2)(8.30,59.0)(8.24,58.8)(8.34,58.8)(8.28,58.1)(8.22,58.0)(8.30,57.8)};
\end{axis}

% ---------------- labels ----------------
\node[font=\bfseries\fontsize{11}{12}\selectfont] at (16bp,-9bp) {(a)};
\node[font=\bfseries\fontsize{9}{10}\selectfont] at (130bp,-8bp) {OPM};
\node[font=\bfseries\fontsize{9}{10}\selectfont] at (368bp,-8bp) {mSQUID};
\node[font=\bfseries\fontsize{9}{10}\selectfont] at (604bp,-8bp) {gSQUID};
\node[rotate=90, font=\tk] at (7bp,-62bp) {PSD (fT²/Hz)};
\node[rotate=90, font=\tk] at (7bp,-170bp) {Relative power};
\node[rotate=90, font=\tk] at (476bp,-62bp) {PSD (fT²/Hz cm²)};
\node[font=\tk] at (130bp,-235bp) {Frequency (Hz)};
\node[font=\bfseries\fontsize{11}{12}\selectfont] at (16bp,-249bp) {(b)};
\node[rotate=90, font=\tk] at (8bp,-358bp) {Power ratio};
\node[font=\tk] at (131bp,-474bp) {Subject};
\node[rotate=90, font=\tk] at (237bp,-358bp) {Bandwidth (Hz)};
\node[rotate=90, font=\tk] at (475bp,-358bp) {Peak frequency (Hz)};
\end{tikzpicture}
\end{document}
